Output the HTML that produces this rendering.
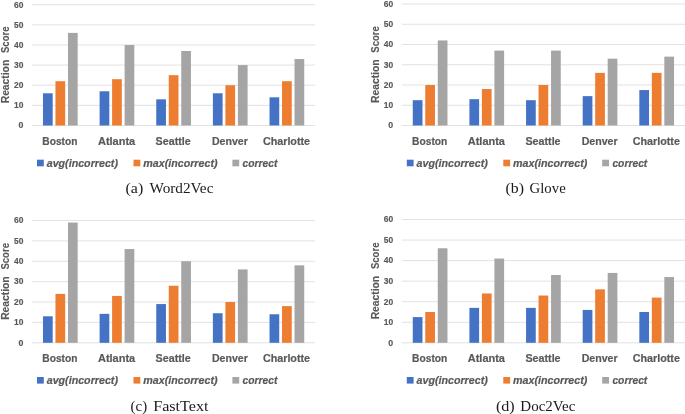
<!DOCTYPE html>
<html lang="en"><head><meta charset="utf-8"><title>Reaction Score charts</title>
<style>
html,body{margin:0;padding:0;background:#fff;}
body{width:685px;height:414px;overflow:hidden;}
svg{display:block;}
text{font-family:"Liberation Sans","DejaVu Sans",sans-serif;fill:#595959;}
.tk{font-size:8.8px;font-weight:bold;stroke:#595959;stroke-width:0.15px;}
.cat{font-size:11px;font-weight:bold;stroke:#595959;stroke-width:0.2px;}
.yt{font-size:11px;font-weight:bold;stroke:#595959;stroke-width:0.15px;}
.lg{font-size:11px;font-weight:bold;font-style:italic;stroke:#595959;stroke-width:0.2px;}
.cap{font-family:"Liberation Serif","DejaVu Serif",serif;font-size:14px;fill:#1a1a1a;}
</style></head><body>
<svg width="685" height="414" viewBox="0 0 685 414">
<rect width="685" height="414" fill="#fff"/>
<g>
<line x1="32" y1="125.5" x2="315.2" y2="125.5" stroke="#D6D6D6" stroke-width="0.7"/>
<text x="23.4" y="128.3" text-anchor="end" class="tk">0</text>
<line x1="32" y1="105.37" x2="315.2" y2="105.37" stroke="#D6D6D6" stroke-width="0.7"/>
<text x="23.4" y="108.17" text-anchor="end" class="tk" textLength="9.4" lengthAdjust="spacingAndGlyphs">10</text>
<line x1="32" y1="85.23" x2="315.2" y2="85.23" stroke="#D6D6D6" stroke-width="0.7"/>
<text x="23.4" y="88.03" text-anchor="end" class="tk" textLength="9.4" lengthAdjust="spacingAndGlyphs">20</text>
<line x1="32" y1="65.1" x2="315.2" y2="65.1" stroke="#D6D6D6" stroke-width="0.7"/>
<text x="23.4" y="67.9" text-anchor="end" class="tk" textLength="9.4" lengthAdjust="spacingAndGlyphs">30</text>
<line x1="32" y1="44.97" x2="315.2" y2="44.97" stroke="#D6D6D6" stroke-width="0.7"/>
<text x="23.4" y="47.77" text-anchor="end" class="tk" textLength="9.4" lengthAdjust="spacingAndGlyphs">40</text>
<line x1="32" y1="24.83" x2="315.2" y2="24.83" stroke="#D6D6D6" stroke-width="0.7"/>
<text x="23.4" y="27.63" text-anchor="end" class="tk" textLength="9.4" lengthAdjust="spacingAndGlyphs">50</text>
<line x1="32" y1="4.7" x2="315.2" y2="4.7" stroke="#D6D6D6" stroke-width="0.7"/>
<text x="23.4" y="7.5" text-anchor="end" class="tk" textLength="9.4" lengthAdjust="spacingAndGlyphs">60</text>
<rect x="42.97" y="93.29" width="9.7" height="32.21" fill="#4472C4"/>
<rect x="55.47" y="81.21" width="9.7" height="44.29" fill="#ED7D31"/>
<rect x="67.97" y="32.89" width="9.7" height="92.61" fill="#A5A5A5"/>
<text x="59.92" y="144.7" text-anchor="middle" class="cat" textLength="35.2" lengthAdjust="spacingAndGlyphs">Boston</text>
<rect x="99.61" y="91.27" width="9.7" height="34.23" fill="#4472C4"/>
<rect x="112.11" y="79.19" width="9.7" height="46.31" fill="#ED7D31"/>
<rect x="124.61" y="44.97" width="9.7" height="80.53" fill="#A5A5A5"/>
<text x="116.56" y="144.7" text-anchor="middle" class="cat" textLength="37.2" lengthAdjust="spacingAndGlyphs">Atlanta</text>
<rect x="156.25" y="99.33" width="9.7" height="26.17" fill="#4472C4"/>
<rect x="168.75" y="75.17" width="9.7" height="50.33" fill="#ED7D31"/>
<rect x="181.25" y="51.01" width="9.7" height="74.49" fill="#A5A5A5"/>
<text x="173.2" y="144.7" text-anchor="middle" class="cat" textLength="35.2" lengthAdjust="spacingAndGlyphs">Seattle</text>
<rect x="212.89" y="93.29" width="9.7" height="32.21" fill="#4472C4"/>
<rect x="225.39" y="85.23" width="9.7" height="40.27" fill="#ED7D31"/>
<rect x="237.89" y="65.1" width="9.7" height="60.4" fill="#A5A5A5"/>
<text x="229.84" y="144.7" text-anchor="middle" class="cat" textLength="35.9" lengthAdjust="spacingAndGlyphs">Denver</text>
<rect x="269.53" y="97.31" width="9.7" height="28.19" fill="#4472C4"/>
<rect x="282.03" y="81.21" width="9.7" height="44.29" fill="#ED7D31"/>
<rect x="294.53" y="59.06" width="9.7" height="66.44" fill="#A5A5A5"/>
<text x="286.48" y="144.7" text-anchor="middle" class="cat" textLength="47.2" lengthAdjust="spacingAndGlyphs">Charlotte</text>
<g transform="translate(8.7,103.3) rotate(-90)"><text class="yt"><tspan x="0" textLength="43.5" lengthAdjust="spacingAndGlyphs">Reaction</tspan><tspan x="50.3" textLength="26.5" lengthAdjust="spacingAndGlyphs">Score</tspan></text></g>
<rect x="37" y="159.7" width="6.8" height="6.6" fill="#4472C4"/>
<text x="46.7" y="166.8" class="lg" textLength="71.3" lengthAdjust="spacingAndGlyphs">avg(incorrect)</text>
<rect x="133.5" y="159.7" width="6.8" height="6.6" fill="#ED7D31"/>
<text x="143.3" y="166.8" class="lg" textLength="74.2" lengthAdjust="spacingAndGlyphs">max(incorrect)</text>
<rect x="232.4" y="159.7" width="6.8" height="6.6" fill="#A5A5A5"/>
<text x="242.6" y="166.8" class="lg" textLength="34.9" lengthAdjust="spacingAndGlyphs">correct</text>
<text y="193.1" class="cap"><tspan x="125.5" textLength="17.7" lengthAdjust="spacingAndGlyphs">(a)</tspan> <tspan x="149.5" textLength="63.9" lengthAdjust="spacingAndGlyphs">Word2Vec</tspan></text>
</g>
<g>
<line x1="401.8" y1="125.5" x2="685" y2="125.5" stroke="#D6D6D6" stroke-width="0.7"/>
<text x="393.2" y="128.3" text-anchor="end" class="tk">0</text>
<line x1="401.8" y1="105.25" x2="685" y2="105.25" stroke="#D6D6D6" stroke-width="0.7"/>
<text x="393.2" y="108.05" text-anchor="end" class="tk" textLength="9.4" lengthAdjust="spacingAndGlyphs">10</text>
<line x1="401.8" y1="85" x2="685" y2="85" stroke="#D6D6D6" stroke-width="0.7"/>
<text x="393.2" y="87.8" text-anchor="end" class="tk" textLength="9.4" lengthAdjust="spacingAndGlyphs">20</text>
<line x1="401.8" y1="64.75" x2="685" y2="64.75" stroke="#D6D6D6" stroke-width="0.7"/>
<text x="393.2" y="67.55" text-anchor="end" class="tk" textLength="9.4" lengthAdjust="spacingAndGlyphs">30</text>
<line x1="401.8" y1="44.5" x2="685" y2="44.5" stroke="#D6D6D6" stroke-width="0.7"/>
<text x="393.2" y="47.3" text-anchor="end" class="tk" textLength="9.4" lengthAdjust="spacingAndGlyphs">40</text>
<line x1="401.8" y1="24.25" x2="685" y2="24.25" stroke="#D6D6D6" stroke-width="0.7"/>
<text x="393.2" y="27.05" text-anchor="end" class="tk" textLength="9.4" lengthAdjust="spacingAndGlyphs">50</text>
<line x1="401.8" y1="4" x2="685" y2="4" stroke="#D6D6D6" stroke-width="0.7"/>
<text x="393.2" y="6.8" text-anchor="end" class="tk" textLength="9.4" lengthAdjust="spacingAndGlyphs">60</text>
<rect x="412.77" y="100.19" width="9.7" height="25.31" fill="#4472C4"/>
<rect x="425.27" y="85" width="9.7" height="40.5" fill="#ED7D31"/>
<rect x="437.77" y="40.45" width="9.7" height="85.05" fill="#A5A5A5"/>
<text x="429.72" y="144.7" text-anchor="middle" class="cat" textLength="35.2" lengthAdjust="spacingAndGlyphs">Boston</text>
<rect x="469.41" y="99.17" width="9.7" height="26.32" fill="#4472C4"/>
<rect x="481.91" y="89.05" width="9.7" height="36.45" fill="#ED7D31"/>
<rect x="494.41" y="50.58" width="9.7" height="74.92" fill="#A5A5A5"/>
<text x="486.36" y="144.7" text-anchor="middle" class="cat" textLength="37.2" lengthAdjust="spacingAndGlyphs">Atlanta</text>
<rect x="526.05" y="100.19" width="9.7" height="25.31" fill="#4472C4"/>
<rect x="538.55" y="85" width="9.7" height="40.5" fill="#ED7D31"/>
<rect x="551.05" y="50.58" width="9.7" height="74.92" fill="#A5A5A5"/>
<text x="543" y="144.7" text-anchor="middle" class="cat" textLength="35.2" lengthAdjust="spacingAndGlyphs">Seattle</text>
<rect x="582.69" y="96.14" width="9.7" height="29.36" fill="#4472C4"/>
<rect x="595.19" y="72.85" width="9.7" height="52.65" fill="#ED7D31"/>
<rect x="607.69" y="58.67" width="9.7" height="66.83" fill="#A5A5A5"/>
<text x="599.64" y="144.7" text-anchor="middle" class="cat" textLength="35.9" lengthAdjust="spacingAndGlyphs">Denver</text>
<rect x="639.33" y="90.06" width="9.7" height="35.44" fill="#4472C4"/>
<rect x="651.83" y="72.85" width="9.7" height="52.65" fill="#ED7D31"/>
<rect x="664.33" y="56.65" width="9.7" height="68.85" fill="#A5A5A5"/>
<text x="656.28" y="144.7" text-anchor="middle" class="cat" textLength="47.2" lengthAdjust="spacingAndGlyphs">Charlotte</text>
<g transform="translate(378.5,102.95) rotate(-90)"><text class="yt"><tspan x="0" textLength="43.5" lengthAdjust="spacingAndGlyphs">Reaction</tspan><tspan x="50.3" textLength="26.5" lengthAdjust="spacingAndGlyphs">Score</tspan></text></g>
<rect x="406.8" y="159.7" width="6.8" height="6.6" fill="#4472C4"/>
<text x="416.5" y="166.8" class="lg" textLength="71.3" lengthAdjust="spacingAndGlyphs">avg(incorrect)</text>
<rect x="503.3" y="159.7" width="6.8" height="6.6" fill="#ED7D31"/>
<text x="513.1" y="166.8" class="lg" textLength="74.2" lengthAdjust="spacingAndGlyphs">max(incorrect)</text>
<rect x="602.2" y="159.7" width="6.8" height="6.6" fill="#A5A5A5"/>
<text x="612.4" y="166.8" class="lg" textLength="34.9" lengthAdjust="spacingAndGlyphs">correct</text>
<text y="193.1" class="cap"><tspan x="505.5" textLength="18.5" lengthAdjust="spacingAndGlyphs">(b)</tspan> <tspan x="529.6" textLength="36.1" lengthAdjust="spacingAndGlyphs">Glove</tspan></text>
</g>
<g>
<line x1="32" y1="342.8" x2="315.2" y2="342.8" stroke="#D6D6D6" stroke-width="0.7"/>
<text x="23.4" y="345.6" text-anchor="end" class="tk">0</text>
<line x1="32" y1="322.42" x2="315.2" y2="322.42" stroke="#D6D6D6" stroke-width="0.7"/>
<text x="23.4" y="325.22" text-anchor="end" class="tk" textLength="9.4" lengthAdjust="spacingAndGlyphs">10</text>
<line x1="32" y1="302.03" x2="315.2" y2="302.03" stroke="#D6D6D6" stroke-width="0.7"/>
<text x="23.4" y="304.83" text-anchor="end" class="tk" textLength="9.4" lengthAdjust="spacingAndGlyphs">20</text>
<line x1="32" y1="281.65" x2="315.2" y2="281.65" stroke="#D6D6D6" stroke-width="0.7"/>
<text x="23.4" y="284.45" text-anchor="end" class="tk" textLength="9.4" lengthAdjust="spacingAndGlyphs">30</text>
<line x1="32" y1="261.27" x2="315.2" y2="261.27" stroke="#D6D6D6" stroke-width="0.7"/>
<text x="23.4" y="264.07" text-anchor="end" class="tk" textLength="9.4" lengthAdjust="spacingAndGlyphs">40</text>
<line x1="32" y1="240.88" x2="315.2" y2="240.88" stroke="#D6D6D6" stroke-width="0.7"/>
<text x="23.4" y="243.68" text-anchor="end" class="tk" textLength="9.4" lengthAdjust="spacingAndGlyphs">50</text>
<line x1="32" y1="220.5" x2="315.2" y2="220.5" stroke="#D6D6D6" stroke-width="0.7"/>
<text x="23.4" y="223.3" text-anchor="end" class="tk" textLength="9.4" lengthAdjust="spacingAndGlyphs">60</text>
<rect x="42.97" y="316.3" width="9.7" height="26.5" fill="#4472C4"/>
<rect x="55.47" y="293.88" width="9.7" height="48.92" fill="#ED7D31"/>
<rect x="67.97" y="222.54" width="9.7" height="120.26" fill="#A5A5A5"/>
<text x="59.92" y="362.3" text-anchor="middle" class="cat" textLength="35.2" lengthAdjust="spacingAndGlyphs">Boston</text>
<rect x="99.61" y="313.86" width="9.7" height="28.94" fill="#4472C4"/>
<rect x="112.11" y="295.92" width="9.7" height="46.88" fill="#ED7D31"/>
<rect x="124.61" y="249.04" width="9.7" height="93.76" fill="#A5A5A5"/>
<text x="116.56" y="362.3" text-anchor="middle" class="cat" textLength="37.2" lengthAdjust="spacingAndGlyphs">Atlanta</text>
<rect x="156.25" y="304.07" width="9.7" height="38.73" fill="#4472C4"/>
<rect x="168.75" y="285.73" width="9.7" height="57.07" fill="#ED7D31"/>
<rect x="181.25" y="261.27" width="9.7" height="81.53" fill="#A5A5A5"/>
<text x="173.2" y="362.3" text-anchor="middle" class="cat" textLength="35.2" lengthAdjust="spacingAndGlyphs">Seattle</text>
<rect x="212.89" y="313.24" width="9.7" height="29.56" fill="#4472C4"/>
<rect x="225.39" y="302.03" width="9.7" height="40.77" fill="#ED7D31"/>
<rect x="237.89" y="269.42" width="9.7" height="73.38" fill="#A5A5A5"/>
<text x="229.84" y="362.3" text-anchor="middle" class="cat" textLength="35.9" lengthAdjust="spacingAndGlyphs">Denver</text>
<rect x="269.53" y="314.26" width="9.7" height="28.54" fill="#4472C4"/>
<rect x="282.03" y="306.11" width="9.7" height="36.69" fill="#ED7D31"/>
<rect x="294.53" y="265.34" width="9.7" height="77.46" fill="#A5A5A5"/>
<text x="286.48" y="362.3" text-anchor="middle" class="cat" textLength="47.2" lengthAdjust="spacingAndGlyphs">Charlotte</text>
<g transform="translate(8.7,319.85) rotate(-90)"><text class="yt"><tspan x="0" textLength="43.5" lengthAdjust="spacingAndGlyphs">Reaction</tspan><tspan x="50.3" textLength="26.5" lengthAdjust="spacingAndGlyphs">Score</tspan></text></g>
<rect x="37" y="377" width="6.8" height="6.6" fill="#4472C4"/>
<text x="46.7" y="384.1" class="lg" textLength="71.3" lengthAdjust="spacingAndGlyphs">avg(incorrect)</text>
<rect x="133.5" y="377" width="6.8" height="6.6" fill="#ED7D31"/>
<text x="143.3" y="384.1" class="lg" textLength="74.2" lengthAdjust="spacingAndGlyphs">max(incorrect)</text>
<rect x="232.4" y="377" width="6.8" height="6.6" fill="#A5A5A5"/>
<text x="242.6" y="384.1" class="lg" textLength="34.9" lengthAdjust="spacingAndGlyphs">correct</text>
<text y="410.8" class="cap"><tspan x="130.6" textLength="16.5" lengthAdjust="spacingAndGlyphs">(c)</tspan> <tspan x="153.2" textLength="55.3" lengthAdjust="spacingAndGlyphs">FastText</tspan></text>
</g>
<g>
<line x1="401.8" y1="342.8" x2="685" y2="342.8" stroke="#D6D6D6" stroke-width="0.7"/>
<text x="393.2" y="345.6" text-anchor="end" class="tk">0</text>
<line x1="401.8" y1="322.25" x2="685" y2="322.25" stroke="#D6D6D6" stroke-width="0.7"/>
<text x="393.2" y="325.05" text-anchor="end" class="tk" textLength="9.4" lengthAdjust="spacingAndGlyphs">10</text>
<line x1="401.8" y1="301.7" x2="685" y2="301.7" stroke="#D6D6D6" stroke-width="0.7"/>
<text x="393.2" y="304.5" text-anchor="end" class="tk" textLength="9.4" lengthAdjust="spacingAndGlyphs">20</text>
<line x1="401.8" y1="281.15" x2="685" y2="281.15" stroke="#D6D6D6" stroke-width="0.7"/>
<text x="393.2" y="283.95" text-anchor="end" class="tk" textLength="9.4" lengthAdjust="spacingAndGlyphs">30</text>
<line x1="401.8" y1="260.6" x2="685" y2="260.6" stroke="#D6D6D6" stroke-width="0.7"/>
<text x="393.2" y="263.4" text-anchor="end" class="tk" textLength="9.4" lengthAdjust="spacingAndGlyphs">40</text>
<line x1="401.8" y1="240.05" x2="685" y2="240.05" stroke="#D6D6D6" stroke-width="0.7"/>
<text x="393.2" y="242.85" text-anchor="end" class="tk" textLength="9.4" lengthAdjust="spacingAndGlyphs">50</text>
<line x1="401.8" y1="219.5" x2="685" y2="219.5" stroke="#D6D6D6" stroke-width="0.7"/>
<text x="393.2" y="222.3" text-anchor="end" class="tk" textLength="9.4" lengthAdjust="spacingAndGlyphs">60</text>
<rect x="412.77" y="317.11" width="9.7" height="25.69" fill="#4472C4"/>
<rect x="425.27" y="311.98" width="9.7" height="30.83" fill="#ED7D31"/>
<rect x="437.77" y="248.27" width="9.7" height="94.53" fill="#A5A5A5"/>
<text x="429.72" y="362.3" text-anchor="middle" class="cat" textLength="35.2" lengthAdjust="spacingAndGlyphs">Boston</text>
<rect x="469.41" y="307.87" width="9.7" height="34.94" fill="#4472C4"/>
<rect x="481.91" y="293.48" width="9.7" height="49.32" fill="#ED7D31"/>
<rect x="494.41" y="258.55" width="9.7" height="84.26" fill="#A5A5A5"/>
<text x="486.36" y="362.3" text-anchor="middle" class="cat" textLength="37.2" lengthAdjust="spacingAndGlyphs">Atlanta</text>
<rect x="526.05" y="307.87" width="9.7" height="34.94" fill="#4472C4"/>
<rect x="538.55" y="295.54" width="9.7" height="47.27" fill="#ED7D31"/>
<rect x="551.05" y="274.99" width="9.7" height="67.82" fill="#A5A5A5"/>
<text x="543" y="362.3" text-anchor="middle" class="cat" textLength="35.2" lengthAdjust="spacingAndGlyphs">Seattle</text>
<rect x="582.69" y="309.92" width="9.7" height="32.88" fill="#4472C4"/>
<rect x="595.19" y="289.37" width="9.7" height="53.43" fill="#ED7D31"/>
<rect x="607.69" y="272.93" width="9.7" height="69.87" fill="#A5A5A5"/>
<text x="599.64" y="362.3" text-anchor="middle" class="cat" textLength="35.9" lengthAdjust="spacingAndGlyphs">Denver</text>
<rect x="639.33" y="311.98" width="9.7" height="30.83" fill="#4472C4"/>
<rect x="651.83" y="297.59" width="9.7" height="45.21" fill="#ED7D31"/>
<rect x="664.33" y="277.04" width="9.7" height="65.76" fill="#A5A5A5"/>
<text x="656.28" y="362.3" text-anchor="middle" class="cat" textLength="47.2" lengthAdjust="spacingAndGlyphs">Charlotte</text>
<g transform="translate(378.5,319.35) rotate(-90)"><text class="yt"><tspan x="0" textLength="43.5" lengthAdjust="spacingAndGlyphs">Reaction</tspan><tspan x="50.3" textLength="26.5" lengthAdjust="spacingAndGlyphs">Score</tspan></text></g>
<rect x="406.8" y="377" width="6.8" height="6.6" fill="#4472C4"/>
<text x="416.5" y="384.1" class="lg" textLength="71.3" lengthAdjust="spacingAndGlyphs">avg(incorrect)</text>
<rect x="503.3" y="377" width="6.8" height="6.6" fill="#ED7D31"/>
<text x="513.1" y="384.1" class="lg" textLength="74.2" lengthAdjust="spacingAndGlyphs">max(incorrect)</text>
<rect x="602.2" y="377" width="6.8" height="6.6" fill="#A5A5A5"/>
<text x="612.4" y="384.1" class="lg" textLength="34.9" lengthAdjust="spacingAndGlyphs">correct</text>
<text y="410.8" class="cap"><tspan x="495.9" textLength="18.8" lengthAdjust="spacingAndGlyphs">(d)</tspan> <tspan x="520.3" textLength="55" lengthAdjust="spacingAndGlyphs">Doc2Vec</tspan></text>
</g>
</svg>
</body></html>
